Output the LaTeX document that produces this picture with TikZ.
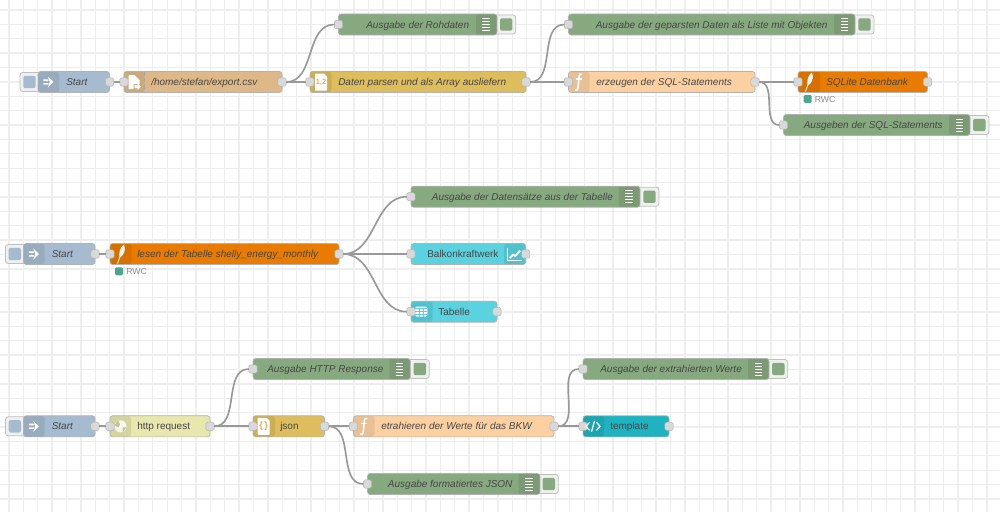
\documentclass[tikz,border=0pt]{standalone}
\usepackage{fontspec}
\setmainfont{Liberation Sans}
\definecolor{gridc}{HTML}{EEEEEE}
\definecolor{wirec}{HTML}{999999}
\definecolor{portc}{HTML}{D9D9D9}
\definecolor{injectc}{HTML}{A6BBCF}
\definecolor{filec}{HTML}{DEB887}
\definecolor{parsec}{HTML}{DEBD5C}
\definecolor{funcc}{HTML}{FDD0A2}
\definecolor{sqlc}{HTML}{E97B00}
\definecolor{debugc}{HTML}{87A980}
\definecolor{dashc}{HTML}{5AD2DF}
\definecolor{httpc}{HTML}{E7E7AE}
\definecolor{tplc}{HTML}{1FB2C1}
\definecolor{statusc}{HTML}{4CA58F}
\tikzset{
  flow/.style={rectangle,rounded corners=2pt,draw=black!30,line width=.5pt,anchor=west,
    minimum height=15.8pt,inner sep=0pt,outer sep=0pt},
  bandl/.style={path picture={\fill[black,opacity=.08] (path picture bounding box.south west)
    rectangle ([xshift=#1*.75pt]path picture bounding box.north west);}},
  bandr/.style={path picture={\fill[black,opacity=.08] (path picture bounding box.south east)
    rectangle ([xshift=-#1*.75pt]path picture bounding box.north east);}},
  lbl/.style={anchor=base west,yshift=-2.7pt,inner sep=0pt,text=black!72,font=\fontsize{7.5}{9}\selectfont},
  port/.style={rectangle,rounded corners=1.2pt,draw=black!30,line width=.4pt,fill=portc,
    minimum size=6.2pt,inner sep=0pt,outer sep=0pt},
  btn/.style={rectangle,rounded corners=2pt,draw=black!25,line width=.6pt,fill=black!6,anchor=west,
    minimum height=14.2pt,inner sep=0pt,outer sep=0pt},
  btnfill/.style={rectangle,rounded corners=1.5pt,fill=#1,minimum size=9.3pt,inner sep=0pt},
  wire/.style={draw=wirec,line width=1.25pt},
  dot/.style={rectangle,rounded corners=1pt,fill=statusc,minimum size=6pt,inner sep=0pt},
  stat/.style={anchor=west,inner sep=0pt,text=black!45,font=\fontsize{6.5}{8}\selectfont},
  pics/injecticon/.style={code={
    \fill[white] (-5,-2.6) rectangle (0,-1) (-5,1) rectangle (0,2.6);
    \fill[white] (-.5,-5.5) -- (5,0) -- (-.5,5.5) -- (1.5,0) -- cycle;}},
  pics/debugicon/.style={code={
    \foreach \i in {-6,-3,0,3,6} \draw[white,line width=.6pt] (-3.8,\i) -- (3.8,\i);}},
  pics/funcicon/.style={code={
    \draw[white,line width=1.2pt] (3.6,-8) .. controls (-.5,-8.8) and (.6,-3) .. (0,1)
      .. controls (-.4,5) and (0,8.8) .. (-3.4,8);
    \draw[white,line width=1pt] (-3,-3) -- (3,-3);}},
  pics/quillicon/.style={code={
    \fill[white,opacity=.92] (3,-9.5) .. controls (5.5,-4) and (2.5,1.5) .. (-1.5,4)
      .. controls (-2.5,-1) and (-1,-7) .. (3,-9.5);
    \draw[white,line width=.6pt] (-1.2,3) -- (-3.5,9.5);}},
  pics/docicon/.style={code={
    \fill[white,rounded corners=.5pt] (-6,-8.5) -- (3,-8.5) -- (6,-5.5) -- (6,8.5) -- (-6,8.5) -- cycle;}},
  pics/fileicon/.style={code={
    \fill[white] (-6,-7) -- (0,-7) -- (5,-2) -- (5,2) -- (-1,2) -- (-1,7) -- (-6,7) -- cycle;
    \fill[white] (0,3) -- (3,3) -- (3,1) -- (6.5,4.5) -- (3,8) -- (3,6) -- (0,6) -- cycle;}},
  pics/globeicon/.style={code={
    \fill[white,opacity=.85] (0,0) circle (6);
    \fill[httpc!85!black] (-2.5,-6) -- (-6,-1) -- (-2,1) -- (-.5,-2) -- cycle (2,1) -- (6,1) -- (2,6) -- cycle;}},
  pics/charticon/.style={code={
    \draw[white,line width=.7pt] (-7,-6) -- (-7,6) -- (7,6);
    \draw[white,line width=1.4pt,line join=round] (-5,4) -- (-1.5,.5) -- (.5,2) -- (5.5,-3.5);}},
  pics/tableicon/.style={code={
    \fill[white,rounded corners=1pt] (-6,-5) rectangle (6,5);
    \foreach \i in {-2,2} \draw[dashc,line width=.4pt] (\i,-3) -- (\i,5);
    \foreach \i in {-3,0,2.5} \draw[dashc,line width=.4pt] (-6,\i) -- (6,\i);}},
  pics/tplicon/.style={code={
    \draw[white,line width=.9pt] (-3.5,-4) -- (-7,0) -- (-3.5,4) (3.5,-4) -- (7,0) -- (3.5,4) (1.5,-5.5) -- (-1.5,5.5);}},
}
% body of a flow node with its text: name, left, right, y, style, text x, text
\newcommand{\flownode}[7]{
  \node[flow,#5,minimum width=(#3-#2)*.75pt] (#1) at (#2,#4) {};
  \node[lbl] (#1-t) at (#6,#4) {#7};
}
\newcommand{\inport}[1]{\node[port] (#1-i) at (#1.west) {};}
\newcommand{\outport}[1]{\node[port] (#1-o) at (#1.east) {};}
% button behind a node: name, left, right, x of the square, y, colour
\newcommand{\flowbtn}[6]{
  \node[btn,minimum width=(#3-#2)*.75pt] (#1-b) at (#2,#5) {};
  \node[btnfill=#6] (#1-s) at (#4,#5) {};
}
\begin{document}
\begin{tikzpicture}[x=.75pt,y=-.75pt]
  \useasboundingbox (0,0) rectangle (1000,512);
  \fill[white] (0,0) rectangle (1000,512);
  %grid
  \foreach \i in {0,...,69} \draw[gridc,line width=1pt] ({9+14.38*\i},0) -- ({9+14.38*\i},512);
  \foreach \i in {0,...,35} \draw[gridc,line width=1pt] (0,{10+14.38*\i}) -- (1000,{10+14.38*\i});

  %first flow
  \flowbtn{s1}{20}{45}{29.5}{82}{injectc}
  \flownode{s1}{38}{109.5}{82}{fill=injectc,bandl=21}{66}{\textit{Start}}
  \flownode{rf}{124}{282}{82}{fill=filec,bandl=20.5}{151}{\textit{/home/stefan/export.csv}}
  \draw[black!35,line width=.3pt,densely dashed] (144.5,71.5) -- (144.5,92.5);
  \flownode{pa}{310}{526}{82}{fill=parsec,bandl=21.5}{338}{\textit{Daten parsen und als Array ausliefern}}
  \flownode{fn}{568.5}{755}{82}{fill=funcc,bandl=21}{596}{\textit{erzeugen der SQL-Statements}}
  \flownode{db}{798}{927.5}{82}{fill=sqlc,bandl=22}{826}{\textit{SQLite Datenbank}}
  \flowbtn{d1}{490}{515.7}{506.2}{24.5}{debugc}
  \flownode{d1}{338.5}{497}{24.5}{fill=debugc,bandr=21}{366}{\textit{Ausgabe der Rohdaten}}
  \flowbtn{d2}{848}{874}{864.5}{24.5}{debugc}
  \flownode{d2}{568.5}{855}{24.5}{fill=debugc,bandr=21}{595.5}{\textit{Ausgabe der geparsten Daten als Liste mit Objekten}}
  \flowbtn{d3}{963}{989}{979.3}{125}{debugc}
  \flownode{d3}{783.5}{970}{125}{fill=debugc,bandr=21}{803.5}{\textit{Ausgeben der SQL-Statements}}
  \node[dot] (st1) at (807.7,99) {};
  \node[stat] (st1-t) at (814.5,99.5) {RWC};
  \outport{s1} \inport{rf} \outport{rf} \inport{pa} \outport{pa} \inport{fn} \outport{fn}
  \inport{db} \outport{db} \inport{d1} \inport{d2} \inport{d3}
  \pic at (48.3,82) {injecticon};
  \pic at (134.5,82) {fileicon};
  \pic at (321,82) {docicon};
  \node[inner sep=0pt,text=filec!70!orange,font=\fontsize{5.5}{6}\bfseries\selectfont] (i12) at (321,82.5) {1,2};
  \pic at (578.5,82) {funcicon};
  \pic at (809,82) {quillicon};
  \pic at (486,24.5) {debugicon};
  \pic at (844.5,24.5) {debugicon};
  \pic at (959.5,125) {debugicon};

  %second flow
  \flowbtn{s2}{5.5}{30}{14.8}{254}{injectc}
  \flownode{s2}{23.5}{95}{254}{fill=injectc,bandl=21}{51.5}{\textit{Start}}
  \flownode{dq}{110}{339}{254}{fill=sqlc,bandl=21.5}{137}{\textit{lesen der Tabelle shelly\_energy\_monthly}}
  \flowbtn{d4}{633}{659}{649.5}{196.7}{debugc}
  \flownode{d4}{411}{640}{196.7}{fill=debugc,bandr=21.5}{431.7}{\textit{Ausgabe der Datensätze aus der Tabelle}}
  \flownode{ch}{411}{525.7}{254}{fill=dashc,bandr=21.5}{427}{Balkonkraftwerk}
  \flownode{tb}{411}{497}{311.7}{fill=dashc,bandl=21.5}{438}{Tabelle}
  \node[dot] (st2) at (119,271.3) {};
  \node[stat] (st2-t) at (126,271.8) {RWC};
  \outport{s2} \inport{dq} \outport{dq} \inport{d4} \inport{ch} \outport{ch} \inport{tb} \outport{tb}
  \pic at (33.8,254) {injecticon};
  \pic at (121,254) {quillicon};
  \pic at (629,196.7) {debugicon};
  \pic at (514.7,254) {charticon};
  \pic at (421.3,311.5) {tableicon};

  %third flow
  \flowbtn{s3}{5.5}{30}{14.8}{426.3}{injectc}
  \flownode{s3}{23.5}{95}{426.3}{fill=injectc,bandl=21}{51.5}{\textit{Start}}
  \flownode{ht}{110}{210}{426.3}{fill=httpc,bandl=21}{137}{http request}
  \flownode{js}{253}{324.5}{426.3}{fill=parsec,bandl=22}{280}{json}
  \flownode{fw}{353.5}{554}{426.3}{fill=funcc,bandl=21}{381}{\textit{etrahieren der Werte für das BKW}}
  \flownode{tp}{583}{669}{426.3}{fill=tplc,bandl=21}{610}{template}
  \flowbtn{d5}{403}{429.3}{419.8}{369}{debugc}
  \flownode{d5}{253}{410.3}{369}{fill=debugc,bandr=21}{267}{\textit{Ausgabe HTTP Response}}
  \flowbtn{d6}{762}{787.7}{778.3}{369}{debugc}
  \flownode{d6}{583}{769}{369}{fill=debugc,bandr=21}{600}{\textit{Ausgabe der extrahierten Werte}}
  \flowbtn{d7}{533}{558.3}{548.8}{484}{debugc}
  \flownode{d7}{367.5}{540}{484}{fill=debugc,bandr=21.5}{387.7}{\textit{Ausgabe formatiertes JSON}}
  \outport{s3} \inport{ht} \outport{ht} \inport{js} \outport{js} \inport{fw} \outport{fw}
  \inport{tp} \outport{tp} \inport{d5} \inport{d6} \inport{d7}
  \pic at (33.8,426.3) {injecticon};
  \pic at (120.5,426.3) {globeicon};
  \pic at (263.7,426.3) {docicon};
  \node[inner sep=0pt,text=filec!70!orange,font=\fontsize{7}{8}\bfseries\selectfont] (ijs) at (263.7,426) {\{\,\}};
  \pic at (363.7,426.3) {funcicon};
  \pic at (593,426.3) {tplicon};
  \pic at (399.5,369) {debugicon};
  \pic at (758.5,369) {debugicon};
  \pic at (529,484) {debugicon};

  %wires
  \draw[wire] (s1-o) -- (rf-i);
  \draw[wire] (rf-o) -- (pa-i);
  \draw[wire] (rf-o) to[out=0,in=180] (d1-i);
  \draw[wire] (pa-o) -- (fn-i);
  \draw[wire] (pa-o) to[out=0,in=180] (d2-i);
  \draw[wire] (fn-o) -- (db-i);
  \draw[wire] (fn-o) to[out=0,in=180] (d3-i);
  \draw[wire] (s2-o) -- (dq-i);
  \draw[wire] (dq-o) -- (ch-i);
  \draw[wire] (dq-o) to[out=0,in=180] (d4-i);
  \draw[wire] (dq-o) to[out=0,in=180] (tb-i);
  \draw[wire] (s3-o) -- (ht-i);
  \draw[wire] (ht-o) -- (js-i);
  \draw[wire] (ht-o) to[out=0,in=180] (d5-i);
  \draw[wire] (js-o) -- (fw-i);
  \draw[wire] (js-o) to[out=0,in=180] (d7-i);
  \draw[wire] (fw-o) -- (tp-i);
  \draw[wire] (fw-o) to[out=0,in=180] (d6-i);
\end{tikzpicture}
\end{document}
